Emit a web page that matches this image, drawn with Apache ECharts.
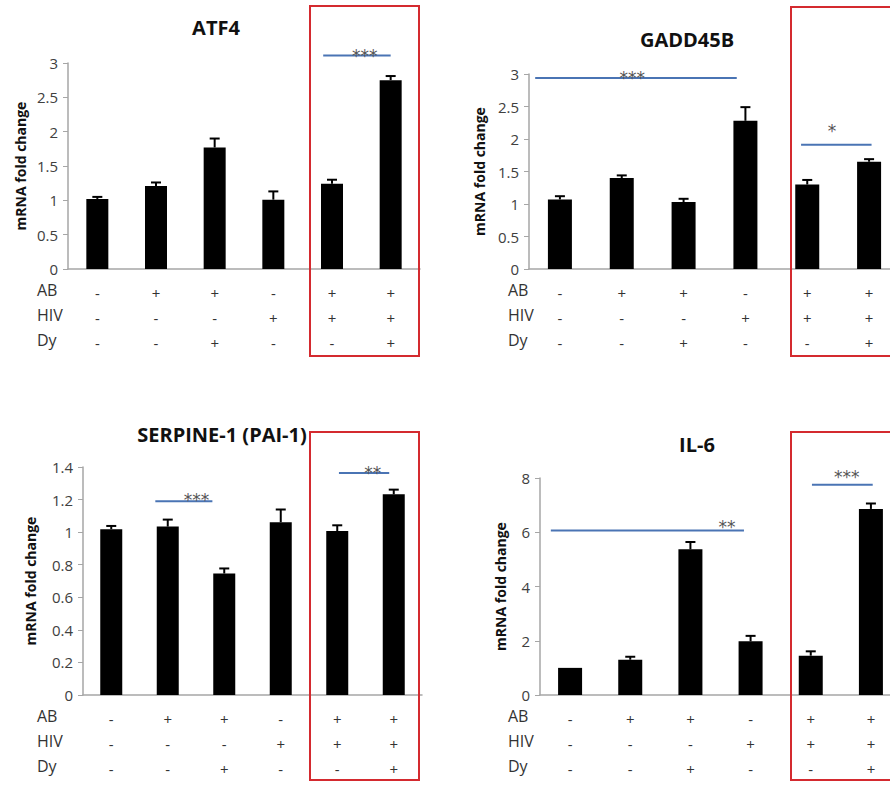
<!DOCTYPE html>
<html>
<head>
<meta charset="utf-8">
<script src="https://cdn.jsdelivr.net/npm/echarts@6/dist/echarts.min.js"></script>
<style>
  html, body { margin: 0; padding: 0; background: #fff; }
  #chart { width: 890px; height: 785px; }
</style>
</head>
<body>
<div id="chart"></div>
<script>
// treatment table under the bars
const rowNames = ['AB', 'HIV', 'Dy'];
const abRow = ['-', '+', '+', '-', '+', '+'];
const hivRow = ['-', '-', '-', '+', '+', '+'];
const dyRow = ['-', '-', '+', '-', '-', '+'];

// ATF4
const atf4Mean = [1.02, 1.21, 1.77, 1.01, 1.24, 2.75];
const atf4Err = [0.03, 0.05, 0.13, 0.12, 0.06, 0.06];
// [from, to, y, starX, starY] in bar index units
const atf4Sig = [[3.85, 5.0, 3.11, 4.56, 3.16]];
const atf4Stars = ['***'];

// GADD45B
const gaddMean = [1.07, 1.40, 1.03, 2.28, 1.30, 1.65];
const gaddErr = [0.05, 0.04, 0.05, 0.21, 0.07, 0.04];
const gaddSig = [[-0.4, 2.86, 2.94, 1.17, 3.0], [3.9, 5.04, 1.91, 4.4, 2.18]];
const gaddStars = ['***', '*'];

// SERPINE-1
const serpMean = [1.018, 1.034, 0.746, 1.061, 1.007, 1.232];
const serpErr = [0.02, 0.043, 0.031, 0.078, 0.035, 0.029];
const serpSig = [[0.78, 1.79, 1.189, 1.51, 1.22], [4.03, 4.92, 1.363, 4.63, 1.39]];
const serpStars = ['***', '**'];

// IL-6
const il6Mean = [1.00, 1.30, 5.37, 1.98, 1.45, 6.86];
const il6Err = [0, 0.11, 0.27, 0.20, 0.16, 0.20];
const il6Sig = [[-0.32, 2.89, 6.06, 2.61, 6.33], [4.02, 5.03, 7.75, 4.6, 8.17]];
const il6Stars = ['**', '***'];

const font = '"Open Sans"';
const tableLabels = abRow.map((a, i) => a + '\n' + hivRow[i] + '\n' + dyRow[i]);

const panels = [
  { title: 'ATF4', tx: 211, ty: 12, grid: { left: 68, top: 63, right: 470, bottom: 516 },
    mean: atf4Mean, err: atf4Err, sig: atf4Sig, stars: atf4Stars,
    max: 3, interval: 0.5, nameGap: 41, barWidth: 22, rowX: 37, rowY: 293 },
  { title: 'GADD45B', tx: 682, ty: 24, grid: { left: 529, top: 74, right: -10, bottom: 516 },
    mean: gaddMean, err: gaddErr, sig: gaddSig, stars: gaddStars,
    max: 3, interval: 0.5, nameGap: 43, barWidth: 24, rowX: 508, rowY: 293 },
  { title: 'SERPINE-1 (PAI-1)', tx: 217, ty: 419, grid: { left: 83, top: 467, right: 468, bottom: 90 },
    mean: serpMean, err: serpErr, sig: serpSig, stars: serpStars,
    max: 1.4, interval: 0.2, nameGap: 46, barWidth: 22, rowX: 37, rowY: 719 },
  { title: 'IL-6', tx: 692, ty: 429, grid: { left: 540, top: 478, right: -11, bottom: 90 },
    mean: il6Mean, err: il6Err, sig: il6Sig, stars: il6Stars,
    max: 8, interval: 2, nameGap: 33, barWidth: 24, rowX: 508, rowY: 719 }
];

function errorBar(params, api) {
  const top = api.value(2);
  if (top <= api.value(1)) return null;
  const p0 = api.coord([api.value(0), api.value(1)]);
  const p1 = api.coord([api.value(0), top]);
  const style = { stroke: '#000', lineWidth: 2 };
  return {
    type: 'group',
    children: [
      { type: 'line', shape: { x1: p0[0], y1: p0[1], x2: p1[0], y2: p1[1] }, style: style },
      { type: 'line', shape: { x1: p1[0] - 5, y1: p1[1], x2: p1[0] + 5, y2: p1[1] }, style: style }
    ]
  };
}

function sigLine(stars) {
  return function (params, api) {
    const a = api.coord([api.value(0), api.value(2)]);
    const b = api.coord([api.value(1), api.value(2)]);
    const s = api.coord([api.value(3), api.value(4)]);
    return {
      type: 'group',
      children: [
        { type: 'line', shape: { x1: a[0], y1: a[1], x2: b[0], y2: b[1] },
          style: { stroke: '#4a74b4', lineWidth: 2 } },
        { type: 'text', x: s[0], y: s[1] + 4,
          style: { text: stars[params.dataIndex], fill: '#555', font: '17px "DejaVu Sans"',
                   align: 'center', verticalAlign: 'middle' } }
      ]
    };
  };
}

const option = {
  animation: false,
  backgroundColor: '#fff',
  title: [],
  grid: [],
  xAxis: [],
  yAxis: [],
  series: [],
  graphic: []
};

panels.forEach((p, k) => {
  option.title.push({
    text: p.title, left: p.tx, top: p.ty, textAlign: 'center',
    textStyle: { fontFamily: font, fontWeight: 'bold', fontSize: 20, color: '#111' }
  });
  option.grid.push(Object.assign({ outerBoundsMode: 'none' }, p.grid));
  option.xAxis.push({
    type: 'category', gridIndex: k, data: tableLabels,
    axisLine: { onZero: false, lineStyle: { color: '#a6a6a6', width: 1.5 } },
    axisTick: { show: false },
    axisLabel: { interval: 0, fontFamily: font, fontSize: 15, lineHeight: 25, margin: 11, color: '#333' }
  });
  option.xAxis.push({ type: 'value', gridIndex: k, min: -0.5, max: 5.5, show: false });
  option.yAxis.push({
    type: 'value', gridIndex: k, min: 0, max: p.max, interval: p.interval,
    name: 'mRNA fold change', nameLocation: 'middle', nameGap: p.nameGap,
    nameTextStyle: { fontFamily: font, fontWeight: 'bold', fontSize: 14, color: '#111' },
    axisLine: { show: true, onZero: false, lineStyle: { color: '#a6a6a6', width: 1.5 } },
    axisTick: { show: true, length: 5, lineStyle: { color: '#a6a6a6' } },
    splitLine: { show: false },
    axisLabel: { fontFamily: font, fontSize: 15, color: '#404040', margin: 10 }
  });
  option.series.push({
    type: 'bar', xAxisIndex: 2 * k, yAxisIndex: k, data: p.mean,
    barWidth: p.barWidth, itemStyle: { color: '#000' }
  });
  option.series.push({
    type: 'custom', xAxisIndex: 2 * k + 1, yAxisIndex: k, renderItem: errorBar,
    data: p.mean.map((m, i) => [i, m, m + p.err[i]])
  });
  option.series.push({
    type: 'custom', xAxisIndex: 2 * k + 1, yAxisIndex: k, renderItem: sigLine(p.stars),
    data: p.sig
  });
  rowNames.forEach((name, r) => {
    option.graphic.push({
      type: 'text', left: p.rowX, top: p.rowY + r * 25 - 11,
      style: { text: name, font: '16px ' + font, fill: '#333' }
    });
  });
});

// red boxes around the AB+HIV groups
const boxes = [[310, 6, 109, 350], [791, 7, 110, 349], [310, 432, 109, 348], [791, 432, 110, 348]];
boxes.forEach(b => {
  option.graphic.push({
    type: 'rect', shape: { x: b[0], y: b[1], width: b[2], height: b[3] },
    style: { fill: 'none', stroke: '#d42a2f', lineWidth: 2 }, z: 100
  });
});

const myChart = echarts.init(document.getElementById('chart'), null, { renderer: 'svg' });
myChart.setOption(option);
</script>
</body>
</html>
